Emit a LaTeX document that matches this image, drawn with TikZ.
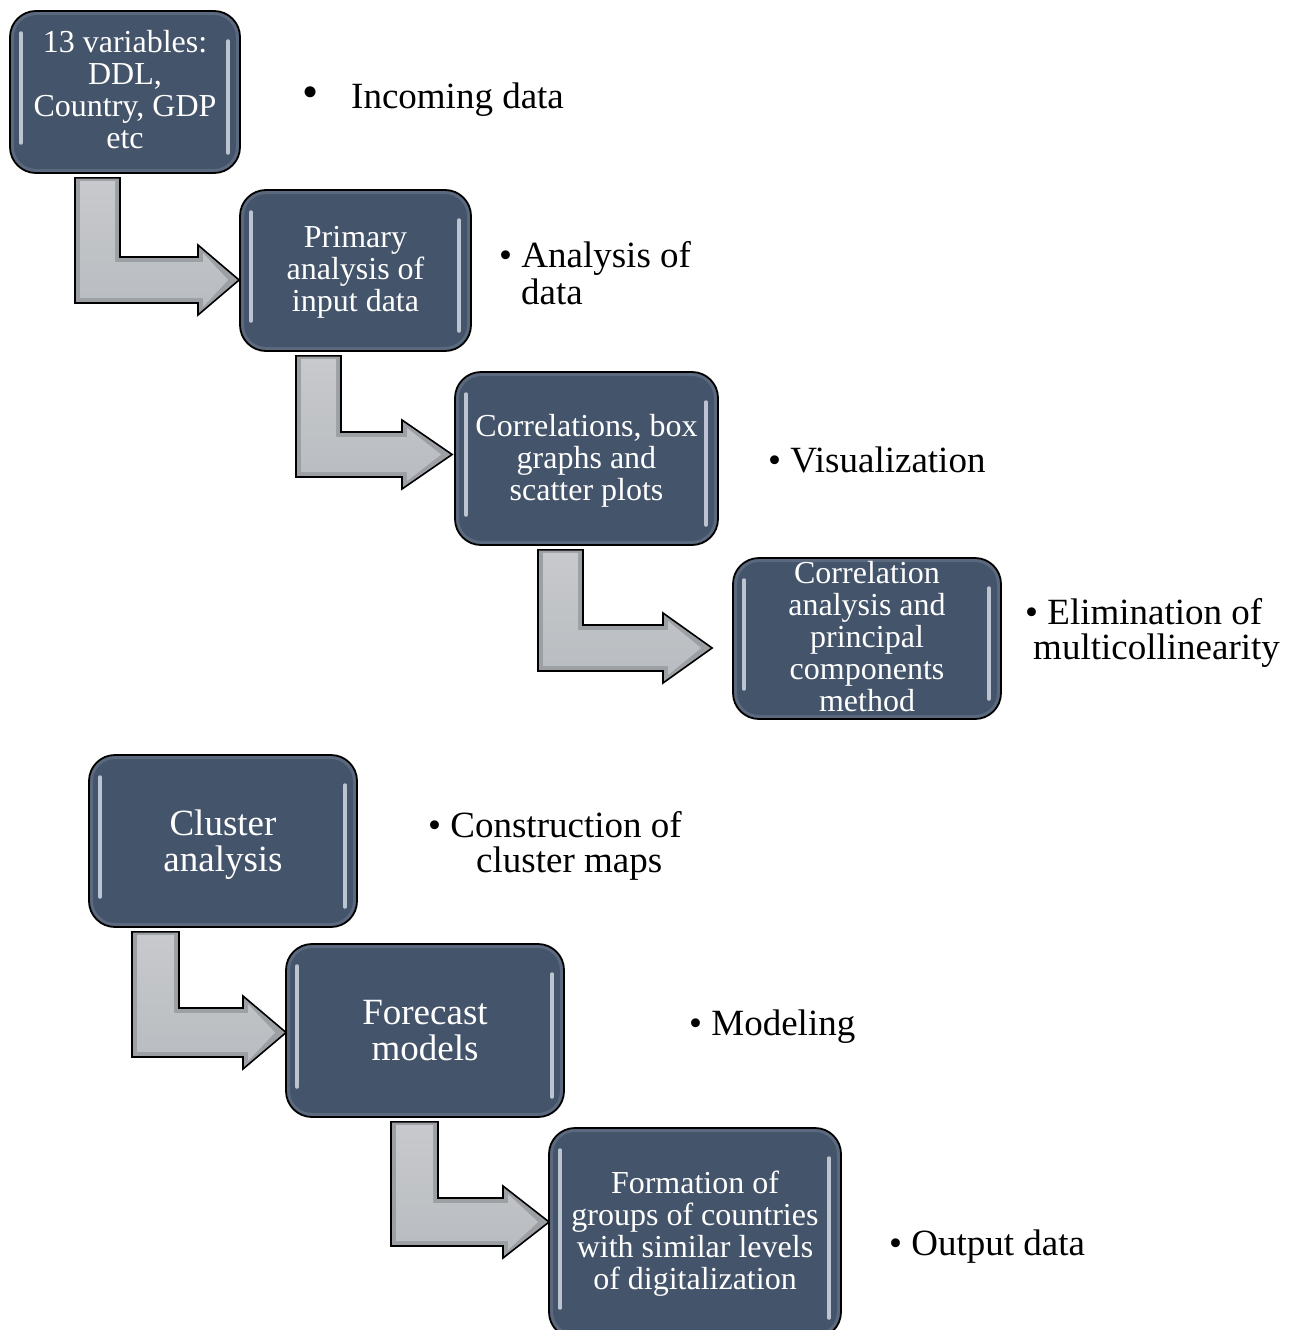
\documentclass[tikz,border=0pt]{standalone}
\usepackage{fontspec}
\setmainfont{Liberation Serif}
\usetikzlibrary{calc,backgrounds}
\definecolor{boxblue}{HTML}{44546A}
\definecolor{boxrim}{HTML}{5B697E}
\definecolor{arrowrim}{HTML}{9C9FA4}
\definecolor{arrowtop}{HTML}{C7C9CC}
\definecolor{arrowbot}{HTML}{B9BCC0}
\definecolor{glossc}{HTML}{D9E0EA}

\tikzset{
  stepbox/.style={draw=black, line width=1.8pt, fill=boxblue, rounded corners=26pt,
    inner sep=0pt,
    path picture={
      \draw[boxrim, line width=8pt, rounded corners=26pt]
        (path picture bounding box.north west) rectangle (path picture bounding box.south east);
      \draw[gloss] ($(path picture bounding box.north west)+(11,22)$) -- ($(path picture bounding box.south west)+(11,-30)$);
      \draw[gloss] ($(path picture bounding box.north east)+(-12,30)$) -- ($(path picture bounding box.south east)+(-12,-20)$);
    }},
  boxtext/.style={inner sep=0pt, text=white, align=center, font=\fontsize{32}{32}\selectfont},
  bigtext/.style={boxtext, font=\fontsize{37}{36}\selectfont},
  itemtext/.style={anchor=base west, inner sep=0pt, font=\fontsize{37}{36}\selectfont, text=black},
  gloss/.style={draw=glossc, line width=3.5pt, line cap=round, opacity=0.8},
  flowarrow/.style={draw=black, line width=1.6pt, line join=miter, fill=arrowrim},
  arrowface/.style={top color=arrowtop, bottom color=arrowbot},
}

% #1 source, #2 target, #3 stem left x, #4 stem right x, #5 bar top y, #6 bar bottom y, #7 head base x, #8 tip offset from target west
\newcommand\bentarrow[8]{%
  \draw[flowarrow] let \p1=(#1.south), \p2=(#2.west) in
    ({#3pt},{\y1-4pt}) -- ({#4pt},{\y1-4pt}) -- ({#4pt},{-#5pt}) -- ({#7pt},{-#5pt})
    -- ({#7pt},{-(#5-12)*1pt}) -- ({\x2+(#8pt)},{-(#5+#6)/2*1pt})
    -- ({#7pt},{-(#6+12)*1pt}) -- ({#7pt},{-#6pt}) -- ({#3pt},{-#6pt}) -- cycle;
  \path[arrowface] let \p1=(#1.south), \p2=(#2.west) in
    ({(#3+5)*1pt},{\y1-7pt}) -- ({(#4-5)*1pt},{\y1-7pt}) -- ({(#4-5)*1pt},{-(#5+5)*1pt}) -- ({(#7+5)*1pt},{-(#5+5)*1pt})
    -- ({(#7+5)*1pt},{-(#5-4)*1pt}) -- ({\x2+(#8pt)-11pt},{-(#5+#6)/2*1pt})
    -- ({(#7+5)*1pt},{-(#6+4)*1pt}) -- ({(#7+5)*1pt},{-(#6-5)*1pt}) -- ({(#3+5)*1pt},{-(#6-5)*1pt}) -- cycle;}

\begin{document}
\begin{tikzpicture}[x=1pt,y=-1pt]
\useasboundingbox (0,0) rectangle (1296,1330);

% boxes
\node[stepbox, minimum width=230pt, minimum height=162pt] (b1) at (125,92) {};
\node[stepbox, minimum width=231pt, minimum height=161pt] (b2) at (355.5,270.5) {};
\node[stepbox, minimum width=263pt, minimum height=173pt] (b3) at (586.5,458.5) {};
\node[stepbox, minimum width=268pt, minimum height=161pt] (b4) at (867,638.5) {};
\node[stepbox, minimum width=268pt, minimum height=172pt] (b5) at (223,841) {};
\node[stepbox, minimum width=278pt, minimum height=173pt] (b6) at (425,1030.5) {};
\node[stepbox, minimum width=292pt, minimum height=210pt] (b7) at (695,1233) {};

% box texts
\node[boxtext, yshift=2pt] (t1) at (b1.center) {13 variables:\\DDL,\\Country, GDP\\etc};
\node[boxtext, yshift=-1.5pt] (t2) at (b2.center) {Primary\\analysis of\\input data};
\node[boxtext, yshift=-2pt] (t3) at (b3.center) {Correlations, box\\graphs and\\scatter plots};
\node[boxtext, yshift=2pt] (t4) at (b4.center) {Correlation\\analysis and\\principal\\components\\method};
\node[bigtext, yshift=-3.5pt] (t5) at (b5.center) {Cluster\\analysis};
\node[bigtext, yshift=-0.5pt] (t6) at (b6.center) {Forecast\\models};
\node[boxtext, yshift=-0.5pt] (t7) at (b7.center) {Formation of\\groups of countries\\with similar levels\\of digitalization};

% arrows (behind the boxes)
\begin{pgfonlayer}{background}
\fill[white] (0,0) rectangle (1296,1330);
\bentarrow{b1}{b2}{75}{120}{257}{303}{198}{0}
\bentarrow{b2}{b3}{296}{341}{432}{477}{402}{-2}
\bentarrow{b3}{b4}{538}{583}{625}{671}{663}{-20}
\bentarrow{b5}{b6}{132}{179}{1008}{1057}{243}{1}
\bentarrow{b6}{b7}{391}{438}{1198}{1246}{503}{1}
\end{pgfonlayer}

% item texts
\node[inner sep=0pt, font=\fontsize{46}{46}\selectfont] (i1b) at (311,97) {\textbullet};
\node[itemtext] (i1) at (351,108) {Incoming data};
\node[itemtext] (i2a) at (499,267) {\textbullet\ Analysis of};
\node[itemtext] (i2b) at (521,304) {data};
\node[itemtext] (i3) at (768,472) {\textbullet\ Visualization};
\node[itemtext] (i4a) at (1025,624) {\textbullet\ Elimination of};
\node[itemtext] (i4b) at (1033,659) {multicollinearity};
\node[itemtext] (i5a) at (428,837) {\textbullet\ Construction of};
\node[itemtext] (i5b) at (476,872) {cluster maps};
\node[itemtext] (i6) at (689,1035) {\textbullet\ Modeling};
\node[itemtext] (i7) at (889,1255) {\textbullet\ Output data};
\end{tikzpicture}
\end{document}
